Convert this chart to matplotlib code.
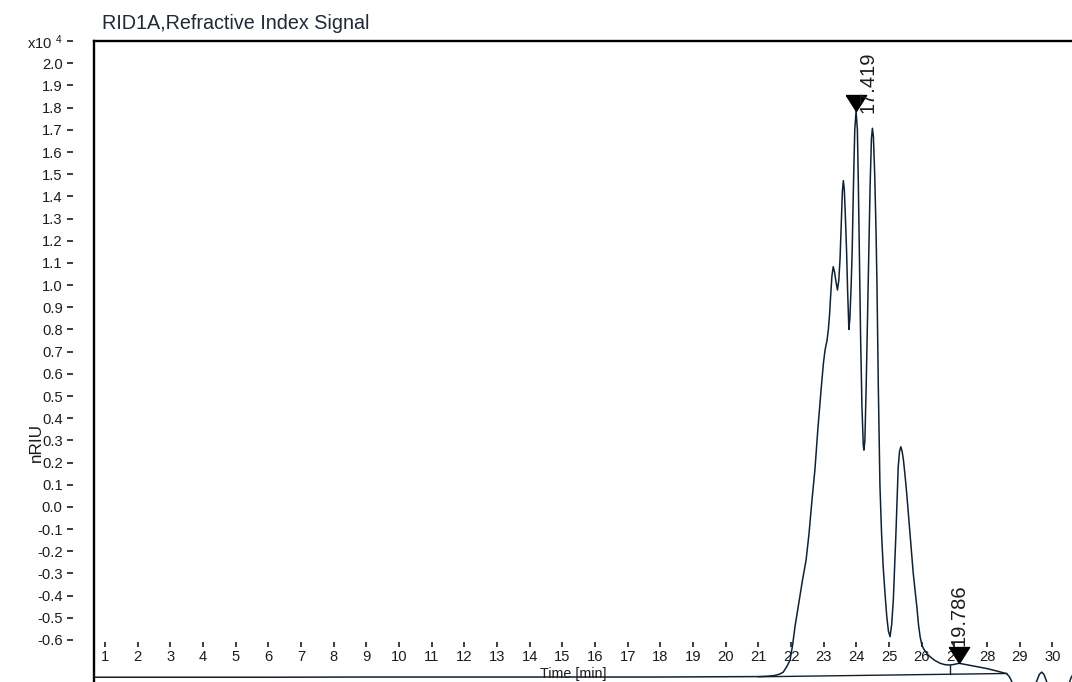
import matplotlib
matplotlib.use("Agg")
import matplotlib.pyplot as plt

plt.rcParams['font.family'] = ['Liberation Sans', 'DejaVu Sans']
plt.rcParams['mathtext.fontset'] = 'custom'
plt.rcParams['mathtext.rm'] = 'Liberation Sans'
plt.rcParams['mathtext.default'] = 'regular'

# Refractive index detector trace (signal in units of 10^4 nRIU)
time_min = [
    0.65, 3.0, 6.0, 9.0, 12.0, 15.0, 18.0, 20.0, 21.0, 21.3, 21.5, 21.65,
    21.76, 21.87, 21.97, 22.05, 22.12, 22.25, 22.35, 22.46, 22.55, 22.64,
    22.73, 22.82, 22.92, 22.99, 23.04, 23.10, 23.14, 23.18, 23.21, 23.25,
    23.29, 23.33, 23.37, 23.42, 23.46, 23.50, 23.54, 23.57, 23.60, 23.63,
    23.66, 23.70, 23.73, 23.77, 23.80, 23.84, 23.87, 23.91, 23.95, 23.99,
    24.03, 24.06, 24.09, 24.13, 24.17, 24.21, 24.23, 24.26, 24.30, 24.34,
    24.38, 24.42, 24.46, 24.49, 24.52, 24.56, 24.60, 24.63, 24.67, 24.72,
    24.77, 24.82, 24.88, 24.93, 24.98, 25.03, 25.08, 25.13, 25.17, 25.21,
    25.25, 25.28, 25.32, 25.36, 25.40, 25.44, 25.49, 25.54, 25.59, 25.64,
    25.69, 25.74, 25.80, 25.85, 25.90, 25.95, 26.00, 26.05, 26.15, 26.25,
    26.40, 26.56, 26.70, 26.86, 27.00, 27.14, 27.50, 28.00, 28.30, 28.60,
    28.68, 28.75, 28.85, 29.00, 29.20, 29.38, 29.52, 29.60, 29.67, 29.74,
    29.83, 30.00, 30.20, 30.40, 30.50, 30.57, 30.65, 30.75, 30.90,
]
signal = [
    -0.768, -0.768, -0.768, -0.767, -0.767, -0.767, -0.767, -0.766, -0.765,
    -0.763, -0.760, -0.754, -0.745, -0.720, -0.690, -0.620, -0.540, -0.420,
    -0.330, -0.240, -0.120, 0.030, 0.167, 0.350, 0.530, 0.647, 0.707, 0.750,
    0.797, 0.870, 0.948, 1.040, 1.083, 1.060, 1.020, 0.978, 1.020, 1.120,
    1.300, 1.420, 1.471, 1.430, 1.320, 1.150, 0.980, 0.800, 0.850, 1.000,
    1.150, 1.450, 1.700, 1.785, 1.700, 1.450, 1.150, 0.750, 0.450, 0.280,
    0.256, 0.300, 0.550, 0.850, 1.150, 1.450, 1.660, 1.707, 1.670, 1.500,
    1.250, 1.000, 0.550, 0.100, -0.120, -0.270, -0.400, -0.495, -0.560,
    -0.585, -0.530, -0.420, -0.270, -0.119, 0.050, 0.181, 0.250, 0.271,
    0.250, 0.211, 0.140, 0.061, -0.030, -0.119, -0.210, -0.300, -0.380,
    -0.450, -0.530, -0.585, -0.620, -0.638, -0.660, -0.675, -0.692, -0.705,
    -0.711, -0.713, -0.710, -0.705, -0.715, -0.729, -0.740, -0.752, -0.765,
    -0.785, -0.830, -0.880, -0.880, -0.830, -0.785, -0.755, -0.745, -0.755,
    -0.790, -0.860, -0.880, -0.840, -0.800, -0.770, -0.750, -0.745, -0.760,
]

# Detected peaks: apex position and the label printed above them
peak_labels = ["17.419", "19.786"]
peak_times = [23.99, 27.14]
peak_heights = [1.785, -0.705]
label_times = [24.36, 27.14]
label_heights = [1.775, -0.625]

# Integration baseline and drop line between the two integrated regions
baseline_times = [21.0, 28.6]
baseline_values = [-0.766, -0.751]
drop_time = 26.86
drop_top = -0.713

x_ticks = list(range(1, 31))
x_tick_labels = [str(t) for t in x_ticks]
y_ticks = [-0.6, -0.5, -0.4, -0.3, -0.2, -0.1, 0.0, 0.1, 0.2, 0.3, 0.4, 0.5,
           0.6, 0.7, 0.8, 0.9, 1.0, 1.1, 1.2, 1.3, 1.4, 1.5, 1.6, 1.7, 1.8,
           1.9, 2.0, 2.1]
y_tick_labels = ["-0.6", "-0.5", "-0.4", "-0.3", "-0.2", "-0.1", "0.0", "0.1",
                 "0.2", "0.3", "0.4", "0.5", "0.6", "0.7", "0.8", "0.9", "1.0",
                 "1.1", "1.2", "1.3", "1.4", "1.5", "1.6", "1.7", "1.8", "1.9",
                 "2.0", r"x10$\ ^{4}$"]

LINE = '#0f2133'
TEXT = '#1c1c1c'

W_PX, H_PX = 1072, 682
fig = plt.figure(figsize=(W_PX / 100, H_PX / 100), dpi=100)
fig.patch.set_facecolor('white')

left_px, right_px, top_px, bottom_px = 93.5, 1090.0, 41.1, 700.0
ax = fig.add_axes([left_px / W_PX, 1 - bottom_px / H_PX,
                   (right_px - left_px) / W_PX, (bottom_px - top_px) / H_PX])
ax.set_xlim(0.649, 31.15)
ax.set_ylim(-0.8706, 2.1001)
ax.set_xticks([])
ax.set_yticks([])
for side in ['top', 'left', 'right', 'bottom']:
    ax.spines[side].set_linewidth(1.7)
    ax.spines[side].set_color('black')

# Trace
ax.plot(time_min, signal, color=LINE, lw=1.1, zorder=3, solid_joinstyle='round')

# Baseline and drop line
ax.plot(baseline_times, baseline_values, color=LINE, lw=1.0, zorder=2)
drop_base = baseline_values[0] + (drop_time - baseline_times[0]) / (
    baseline_times[1] - baseline_times[0]) * (baseline_values[1] - baseline_values[0])
ax.plot([drop_time, drop_time], [drop_top, drop_base], color=LINE, lw=1.0, zorder=2)

# Peak markers (apex of the triangle sits on the peak)
tri = [(-0.6, 0.95), (0.6, 0.95), (0.0, 0.0), (-0.6, 0.95)]
ax.plot(peak_times, peak_heights, linestyle='none', marker=tri,
        markersize=23, color='black', zorder=5)
for lab, t, h in zip(peak_labels, label_times, label_heights):
    ax.text(t, h, lab, rotation=90, ha='center', va='bottom',
            fontsize=14.5, color=TEXT, zorder=6)

# Y scale drawn detached to the left of the frame
ax_w = right_px - left_px
ax_h = bottom_px - top_px
secy = ax.secondary_yaxis((66.7 - left_px) / ax_w)
secy.set_yticks(y_ticks, labels=y_tick_labels)
secy.spines['left'].set_visible(False)
secy.tick_params(axis='y', direction='in', length=4.3, width=1.2, pad=2.9,
                 labelsize=10.6, colors=TEXT)

# Time scale drawn inside the frame near the bottom
secx = ax.secondary_xaxis((bottom_px - 647.0) / ax_h)
secx.set_xticks(x_ticks, labels=x_tick_labels)
secx.spines['bottom'].set_visible(False)
secx.tick_params(axis='x', direction='in', length=3.6, width=1.2, pad=2.0,
                 labelsize=10.6, colors=TEXT)

fig.text(101.5 / W_PX, 1 - 29.3 / H_PX, "RID1A,Refractive Index Signal",
         fontsize=14.2, va='baseline', ha='left', color='#1e2a36')
fig.text(36 / W_PX, 1 - 443 / H_PX, "nRIU", rotation=90, ha='center',
         va='center', fontsize=12.3, color=TEXT)
fig.text(573.3 / W_PX, 1 - 673.7 / H_PX, "Time [min]", ha='center',
         va='center', fontsize=10.3, color=TEXT)

fig.savefig('out.png', dpi=100)
